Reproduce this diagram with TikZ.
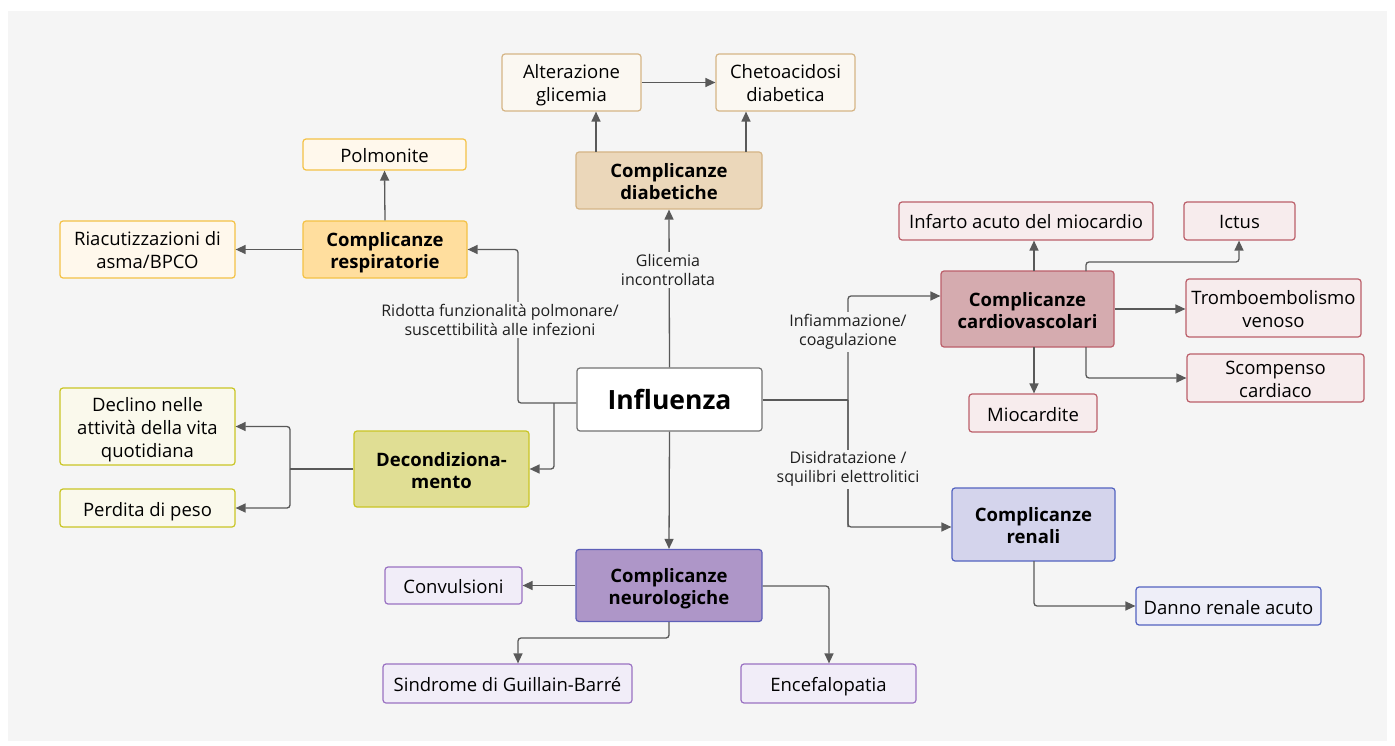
\documentclass[tikz,border=0pt]{standalone}
\usepackage{fontspec}
\setmainfont{Open Sans}
\usetikzlibrary{arrows.meta}
% palette
\definecolor{bg}{HTML}{F5F5F5}
\definecolor{linec}{HTML}{595959}
\definecolor{diabF}{HTML}{EBD7BA}\definecolor{diabD}{HTML}{D5B586}\definecolor{diabL}{HTML}{FBF8F2}
\definecolor{respF}{HTML}{FFDE9E}\definecolor{respD}{HTML}{F4C246}\definecolor{respL}{HTML}{FFF8EC}
\definecolor{decF}{HTML}{E0DE94}\definecolor{decD}{HTML}{C9C525}\definecolor{decL}{HTML}{FAF9EC}
\definecolor{neuF}{HTML}{AE96C8}\definecolor{neuD}{HTML}{5E5FB8}\definecolor{neuL}{HTML}{F1EDF8}\definecolor{neuLD}{HTML}{9A72C2}
\definecolor{carF}{HTML}{D5ABAF}\definecolor{carD}{HTML}{BB5F6A}\definecolor{carL}{HTML}{F7ECED}
\definecolor{renF}{HTML}{D4D4EC}\definecolor{renD}{HTML}{5363C0}\definecolor{renL}{HTML}{EEEEF8}
% invisible line strut so every box centres its lines the same way
\newcommand\lnstrut{\rule[-4.5pt]{0pt}{25pt}}
\tikzset{
  box/.style={draw, rounded corners=3pt, line width=1.2pt, align=center, inner sep=0pt,
    text=black, font=\fontsize{18.5}{23}\selectfont,
    execute at end node=\lnstrut},
  hub/.style={box, font=\bfseries\fontsize{18.5}{22}\selectfont},
  arr/.style={draw=linec, line width=1.3pt, rounded corners=3pt,
    -{Triangle[length=10pt,width=9pt]}},
  conn/.style={draw=linec, line width=1.3pt, rounded corners=3pt},
  lbl/.style={fill=bg, inner sep=2pt, align=center, text=black!88,
    font=\fontsize{16}{19}\selectfont},
}
\begin{document}
\begin{tikzpicture}[x=1pt,y=-1pt]
\useasboundingbox (0,0) rectangle (1395,746);
\fill[bg] (8,11) rectangle (1387,741);

% central node
\node[draw=black!55, fill=white, rounded corners=3pt, line width=1.2pt, inner sep=0pt,
  minimum width=185pt, minimum height=63pt,
  font=\bfseries\fontsize{26.5}{28}\selectfont] (infl) at (669.5,399.5) {Influenza};

% diabetic branch
\node[hub, fill=diabF, draw=diabD, minimum width=186pt, minimum height=57pt] (diab) at (669,180.5) {\lnstrut Complicanze\\diabetiche};
\node[box, fill=diabL, draw=diabD, minimum width=139pt, minimum height=57pt] (alt) at (571.5,82.5) {\lnstrut Alterazione\\glicemia};
\node[box, fill=diabL, draw=diabD, minimum width=139pt, minimum height=57pt] (cheto) at (785.5,82.5) {\lnstrut Chetoacidosi\\diabetica};

% respiratory branch
\node[hub, fill=respF, draw=respD, minimum width=164pt, minimum height=57pt] (resp) at (385,249.5) {\lnstrut Complicanze\\respiratorie};
\node[box, fill=respL, draw=respD, minimum width=163pt, minimum height=31pt] (polm) at (384.5,154.5) {\lnstrut Polmonite};
\node[box, fill=respL, draw=respD, minimum width=175pt, minimum height=57pt] (riac) at (147.5,249.5) {\lnstrut Riacutizzazioni di\\asma/BPCO};

% deconditioning branch
\node[hub, fill=decF, draw=decD, minimum width=175pt, minimum height=76pt] (dec) at (441.5,469) {\lnstrut Decondiziona-\\mento};
\node[box, fill=decL, draw=decD, minimum width=175pt, minimum height=77pt] (decl) at (147.5,426.5) {\lnstrut Declino nelle\\attività della vita\\quotidiana};
\node[box, fill=decL, draw=decD, minimum width=175pt, minimum height=38pt] (perd) at (147.5,508) {\lnstrut Perdita di peso};

% neurological branch
\node[hub, fill=neuF, draw=neuD, minimum width=186pt, minimum height=72pt] (neu) at (669,585.5) {\lnstrut Complicanze\\neurologiche};
\node[box, fill=neuL, draw=neuLD, minimum width=137pt, minimum height=37pt] (conv) at (453.5,585.5) {\lnstrut Convulsioni};
\node[box, fill=neuL, draw=neuLD, minimum width=249pt, minimum height=39pt] (guill) at (507.5,683.5) {\lnstrut Sindrome di Guillain-Barré};
\node[box, fill=neuL, draw=neuLD, minimum width=175pt, minimum height=39pt] (encef) at (828.5,683.5) {\lnstrut Encefalopatia};

% cardiovascular branch
\node[hub, fill=carF, draw=carD, minimum width=173pt, minimum height=76pt] (car) at (1027.5,309) {\lnstrut Complicanze\\cardiovascolari};
\node[box, fill=carL, draw=carD, minimum width=254pt, minimum height=38pt] (infar) at (1026,221) {\lnstrut Infarto acuto del miocardio};
\node[box, fill=carL, draw=carD, minimum width=111pt, minimum height=38pt] (ictus) at (1239.5,221) {\lnstrut Ictus};
\node[box, fill=carL, draw=carD, minimum width=175pt, minimum height=58pt] (trombo) at (1273.5,308) {\lnstrut Tromboembolismo\\venoso};
\node[box, fill=carL, draw=carD, minimum width=177pt, minimum height=48pt] (scomp) at (1275.5,378) {\lnstrut Scompenso\\cardiaco};
\node[box, fill=carL, draw=carD, minimum width=128pt, minimum height=38pt] (mioc) at (1033,413) {\lnstrut Miocardite};

% renal branch
\node[hub, fill=renF, draw=renD, minimum width=163pt, minimum height=73pt] (ren) at (1033.5,524.5) {\lnstrut Complicanze\\renali};
\node[box, fill=renL, draw=renD, minimum width=185pt, minimum height=38pt] (danno) at (1228.5,606) {\lnstrut Danno renale acuto};

% bend points
\coordinate (d1) at (596,152);
\coordinate (d2) at (746,152);
\coordinate (lw) at (518,403);
\coordinate (lw2) at (554,403);
\coordinate (dj) at (290,469);
\coordinate (nb) at (669,638);
\coordinate (ng) at (518,638);
\coordinate (ne) at (829,586);
\coordinate (rj) at (848,400);
\coordinate (rc) at (848,296);
\coordinate (rr) at (848,527);
\coordinate (c1) at (1034,271);
\coordinate (c2) at (1086,271);
\coordinate (c2b) at (1239,262);
\coordinate (c3) at (1086,347);
\coordinate (c4) at (1034,347);
\coordinate (r1) at (1034,561);

% diabetic connectors
\draw[arr] (infl.north) -- (diab.south);
\draw[arr] (d1) -- (d1 |- alt.south);
\draw[arr] (d2) -- (d2 |- cheto.south);
\draw[arr] (alt.east) -- (cheto.west);

% respiratory and deconditioning connectors
\draw[arr] (infl.west |- lw) -- (lw) -- (lw |- resp.east) -- (resp.east);
\draw[arr] (lw2) -- (lw2 |- dec.east) -- (dec.east);
\draw[arr] (resp.north) -- (polm.south);
\draw[arr] (resp.west) -- (riac.east);
\draw[conn] (dec.west) -- (dj);
\draw[arr] (dj) -- (dj |- decl.east) -- (decl.east);
\draw[arr] (dj) -- (dj |- perd.east) -- (perd.east);

% neurological connectors
\draw[arr] (infl.south) -- (neu.north);
\draw[arr] (neu.west) -- (conv.east);
\draw[arr] (neu.south) -- (nb) -- (ng) -- (ng |- guill.north);
\draw[arr] (neu.east |- ne) -- (ne) -- (ne |- encef.north);

% cardiovascular and renal connectors
\draw[conn] (infl.east |- rj) -- (rj);
\draw[arr] (rr) -- (rc) -- (rc -| car.west);
\draw[arr] (rc |- rj) -- (rr) -- (rr -| ren.west);
\draw[arr] (c1) -- (c1 |- infar.south);
\draw[arr] (c2) -- (c2 |- c2b) -- (c2b) -- (c2b |- ictus.south);
\draw[arr] (car.east) -- (car.east -| trombo.west);
\draw[arr] (c3) -- (c3 |- scomp.west) -- (scomp.west);
\draw[arr] (c4) -- (c4 |- mioc.north);
\draw[arr] (r1) -- (r1 |- danno.west) -- (danno.west);

% connector labels
\node[lbl] (lg) at (668,270) {Glicemia\\incontrollata};
\node[lbl] (lr) at (500,320) {Ridotta funzionalità polmonare/\\suscettibilità alle infezioni};
\node[lbl] (li) at (848,332) {Infiammazione/\\coagulazione};
\node[lbl] (ld) at (848,469) {Disidratazione /\\squilibri elettrolitici};
\end{tikzpicture}
\end{document}
